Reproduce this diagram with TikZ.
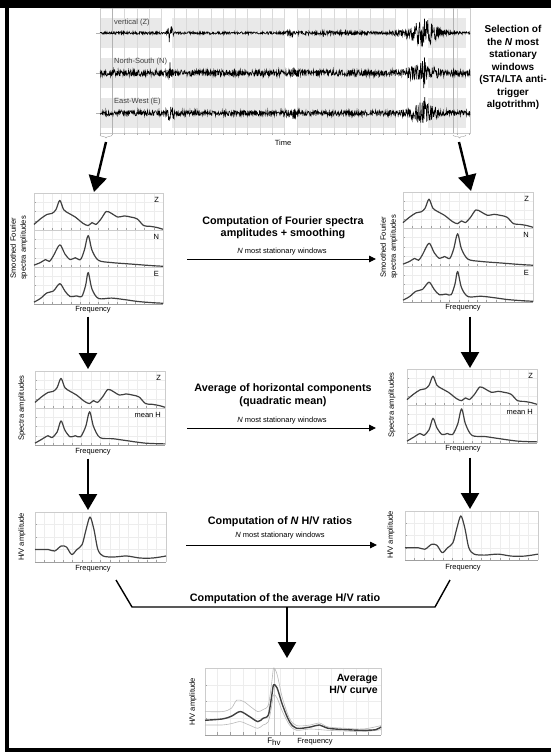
\documentclass[tikz,border=0pt]{standalone}
\usepackage{fontspec}
\setmainfont{Liberation Sans}
\usepackage{tikz}
\usetikzlibrary{arrows.meta,decorations.pathreplacing}

\tikzset{
  bigarrow/.style={line width=2.4pt,-{Triangle[length=16pt,width=18pt]}},
  thinarrow/.style={line width=0.9pt,-{Triangle[length=7pt,width=6.5pt]}},
  heading/.style={font=\bfseries\fontsize{10.8}{12.5}\selectfont,align=center,inner sep=0pt},
  lab/.style={font=\fontsize{7.5}{9}\selectfont,inner sep=0pt},
  ylab/.style={font=\fontsize{7.6}{10}\selectfont,inner sep=0pt,rotate=90,align=center},
  gridline/.style={gray!14,line width=0.3pt},
  frame/.style={gray!40,line width=0.5pt},
  axisline/.style={gray!75,line width=0.6pt},
  spec/.style={black!75,line width=1.2pt,line join=round},
  trace/.style={black,line width=0.6pt}
}
% one sub-panel in unit coordinates
\newcommand{\subgrid}{%
  \foreach \i in {1,...,13} {\draw[gridline] (\i/14,0) -- (\i/14,1);}
  \foreach \j in {1,2,3} {\draw[gridline] (0,\j/4) -- (1,\j/4);}
  \foreach \i in {1,...,13} {\draw[axisline,line width=0.3pt] (\i/14,0) -- (\i/14,0.05);}
  \foreach \j in {1,2,3} {\draw[axisline,line width=0.3pt] (0,\j/4) -- (0.012,\j/4);}
  \draw[frame] (0,0) -- (0,1) -- (1,1) -- (1,0);
  \draw[axisline] (0,0) -- (1,0);}
\newcommand{\curvez}{\draw[spec] plot[smooth] coordinates {(0,0.15) (0.05,0.3) (0.1,0.42) (0.14,0.45) (0.17,0.55) (0.2,0.8) (0.23,0.55) (0.27,0.45) (0.32,0.35) (0.38,0.18) (0.42,0.12) (0.45,0.2) (0.48,0.15) (0.52,0.3) (0.56,0.5) (0.6,0.45) (0.65,0.35) (0.7,0.38) (0.75,0.35) (0.8,0.3) (0.85,0.12) (0.9,0.1) (0.95,0.07) (1,0.02)};}
\newcommand{\curven}{\draw[spec] plot[smooth] coordinates {(0,0.05) (0.05,0.12) (0.09,0.2) (0.12,0.15) (0.15,0.3) (0.2,0.6) (0.24,0.35) (0.28,0.2) (0.32,0.25) (0.36,0.2) (0.39,0.45) (0.42,0.85) (0.45,0.45) (0.5,0.18) (0.6,0.12) (0.75,0.08) (0.9,0.04) (1,0.02)};}
\newcommand{\curvee}{\draw[spec] plot[smooth] coordinates {(0,0.05) (0.05,0.15) (0.1,0.3) (0.15,0.35) (0.2,0.55) (0.24,0.35) (0.28,0.2) (0.33,0.22) (0.37,0.2) (0.4,0.5) (0.42,0.85) (0.45,0.4) (0.5,0.15) (0.6,0.16) (0.7,0.12) (0.8,0.07) (0.9,0.04) (1,0.02)};}
\newcommand{\curveh}{\draw[spec] plot[smooth] coordinates {(0,0.05) (0.05,0.15) (0.1,0.25) (0.13,0.2) (0.17,0.35) (0.2,0.65) (0.23,0.4) (0.27,0.22) (0.31,0.25) (0.35,0.22) (0.39,0.5) (0.42,0.9) (0.45,0.5) (0.5,0.2) (0.6,0.17) (0.7,0.12) (0.85,0.05) (1,0.03)};}
\newcommand{\curvehv}{\draw[spec] plot[smooth] coordinates {(0,0.25) (0.1,0.25) (0.15,0.22) (0.2,0.32) (0.24,0.3) (0.28,0.15) (0.32,0.25) (0.36,0.35) (0.39,0.65) (0.42,0.9) (0.45,0.65) (0.48,0.25) (0.52,0.12) (0.6,0.1) (0.7,0.12) (0.8,0.08) (0.9,0.08) (1,0.12)};}

\begin{document}
\begin{tikzpicture}[x=1pt,y=-1pt,declare function={tri(\x,\m,\w)=max(0,1-abs(\x-\m)/\w);}]
\useasboundingbox (0,0) rectangle (551,752);
\fill (0,0) rectangle (551,8);
\fill (5,0) rectangle (9,752);
\fill (5,748) rectangle (551,752);

% seismograms
\foreach \ya/\yb in {18/48,58/88,98/128}
  \foreach \xa/\xb in {100/162,172/284,297/396,428/466}
    {\fill[gray!17] (\xa,\ya) rectangle (\xb,\yb);}
\foreach \i in {1,...,29} {\draw[gray!30,line width=0.3pt] (100+12.3*\i,8) -- (100+12.3*\i,133);}
\draw[frame] (100,8) rectangle (470,133);
\foreach \i in {0,...,30} {\draw[gray!60,line width=0.3pt] (100+12.3*\i,133) -- (100+12.3*\i,135);}
\foreach \y in {33,73,113} {\draw[gray!60,line width=0.3pt] (96,\y) -- (100,\y);}
\draw[gray!60] (112,8) -- (112,133) (453,8) -- (453,133);
\pgfmathsetseed{11}
\draw[trace] plot[domain=100:470,samples=1000,variable=\t] (\t,{33+(1.3+10*tri(\t,170,4)+3*tri(\t,290,6)+1*tri(\t,330,60)+10*tri(\t,425,20)+4*tri(\t,420,35))*rand});
\draw[trace] plot[domain=100:470,samples=1000,variable=\t] (\t,{73+(3.2+10*tri(\t,170,3)+3*tri(\t,295,6)+7*tri(\t,422,22)+8*tri(\t,424,3))*rand});
\draw[trace] plot[domain=100:470,samples=1000,variable=\t] (\t,{113+(2.8+6*tri(\t,170,6)+3*tri(\t,293,8)+9*tri(\t,422,22)+9*tri(\t,425,3))*rand});
\node[lab,anchor=west,text=black!75] (cZ) at (114,23) {vertical (Z)};
\node[lab,anchor=west,text=black!75] (cN) at (114,62) {North-South (N)};
\node[lab,anchor=west,text=black!75] (cE) at (114,102) {East-West (E)};
\node[lab] (time) at (283,143) {Time};
\draw[gray!70,decorate,decoration={brace,mirror,amplitude=3pt}] (100,135) -- (112,135);
\draw[gray!70,decorate,decoration={brace,mirror,amplitude=3pt}] (453,135) -- (466,135);
\node[heading,font=\bfseries\fontsize{10}{12.5}\selectfont] (sel) at (513,67.5) {Selection of\\the \textit{N} most\\stationary\\windows\\(STA/LTA anti-\\trigger\\algotrithm)};

% spectra panels
\foreach \px/\py/\pw/\ph/\crv/\lbl [count=\k] in {34/230/129/37/z/Z,34/267/129/37/n/N,34/304/129/37/e/E,
    35/408/130/37/z/Z,35/445/130/37/h/mean H,
    403/228/130/36/z/Z,403/266/130/38/n/N,403/302/130/36/e/E,
    407/405/130/36/z/Z,407/443/130/38/h/mean H}
{
  \begin{scope}[shift={(\px,\py)},x=\pw pt,y=\ph pt]
    \subgrid
    \csname curve\crv\endcsname
    \node[lab,anchor=north east] (sub\k) at (0.97,0.88) {\lbl};
  \end{scope}
}
\foreach \px/\py/\pw/\ph in {35/562/131/50,405/560/133/49}
{
  \begin{scope}[shift={(\px,\py)},x=\pw pt,y=\ph pt]
    \subgrid
    \curvehv
  \end{scope}
}

\node[ylab] (ylA) at (19,248) {Smoothed Fourier\\spectra amplitudes};
\node[ylab] (ylD) at (389,247) {Smoothed Fourier\\spectra amplitudes};
\node[ylab] (ylB) at (22,408) {Spectra amplitudes};
\node[ylab] (ylE) at (392,405) {Spectra amplitudes};
\node[ylab] (ylC) at (22,537) {H/V amplitude};
\node[ylab] (ylF) at (391,535) {H/V amplitude};
\node[lab] (fqA) at (93,310) {Frequency};
\node[lab] (fqB) at (93,452) {Frequency};
\node[lab] (fqC) at (93,569) {Frequency};
\node[lab] (fqD) at (463,308) {Frequency};
\node[lab] (fqE) at (463,449) {Frequency};
\node[lab] (fqF) at (463,568) {Frequency};

% arrows
\coordinate (brL) at (106,142);
\coordinate (brR) at (459,142);
\coordinate (tipL) at (94,192);
\coordinate (tipR) at (471,191);
\draw[bigarrow] (brL) -- (tipL);
\draw[bigarrow] (brR) -- (tipR);
\coordinate (topB) at (88,369);
\coordinate (topC) at (88,510);
\coordinate (topE) at (470,368);
\coordinate (topF) at (470,509);
\draw[bigarrow,shorten <=3pt] (fqA.south -| topB) -- (topB);
\draw[bigarrow,shorten <=3pt] (fqB.south -| topC) -- (topC);
\draw[bigarrow,shorten <=5pt] (fqD.south -| topE) -- (topE);
\draw[bigarrow,shorten <=5pt] (fqE.south -| topF) -- (topF);

\node[heading] (hdA) at (283,227.5) {Computation of Fourier spectra\\amplitudes + smoothing};
\node[lab] (nwA) at (282,252) {\textit{N} most stationary windows};
\node[heading] (hdB) at (283,395) {Average of horizontal components\\(quadratic mean)};
\node[lab] (nwB) at (282,421) {\textit{N} most stationary windows};
\node[heading] (hdC) at (280,522) {Computation of \textit{N} H/V ratios};
\node[lab] (nwC) at (280,536) {\textit{N} most stationary windows};
\coordinate (hA1) at (187,259);
\coordinate (hA2) at (376,259);
\coordinate (hB1) at (187,428);
\coordinate (hB2) at (376,428);
\coordinate (hC1) at (186,545);
\coordinate (hC2) at (377,545);
\draw[thinarrow] (hA1) -- (hA2);
\draw[thinarrow] (hB1) -- (hB2);
\draw[thinarrow] (hC1) -- (hC2);

% average
\coordinate (bk1) at (116,580);
\coordinate (bk2) at (132,607);
\coordinate (bk3) at (435,607);
\coordinate (bk4) at (450,580);
\draw[line width=1.4pt,line join=round] (bk1) -- (bk2) -- (bk3) -- (bk4);
\node[heading] (hdD) at (285,599) {Computation of the average H/V ratio};
\coordinate (avgtop) at (287,658);
\draw[bigarrow] (bk2 -| avgtop) -- (avgtop);

\begin{scope}[shift={(205,735)},x=176pt,y=67pt]
  \subgrid
  \draw[gray!45,line width=0.6pt] (0.392,0) -- (0.392,1);
  \draw[gray!55,line width=0.6pt] plot[smooth] coordinates {(0,0.35) (0.1,0.35) (0.15,0.4) (0.18,0.52) (0.22,0.5) (0.26,0.42) (0.3,0.35) (0.33,0.38) (0.36,0.45) (0.38,0.8) (0.39,1.0) (0.41,0.9) (0.44,0.55) (0.48,0.25) (0.52,0.14) (0.6,0.15) (0.65,0.18) (0.7,0.12) (0.8,0.1) (0.9,0.09) (1,0.14)};
  \draw[gray!55,line width=0.6pt] plot[smooth] coordinates {(0,0.15) (0.1,0.15) (0.15,0.17) (0.2,0.2) (0.25,0.15) (0.3,0.1) (0.33,0.15) (0.36,0.2) (0.38,0.45) (0.39,0.6) (0.41,0.55) (0.44,0.35) (0.48,0.15) (0.52,0.07) (0.6,0.09) (0.7,0.07) (0.8,0.06) (0.9,0.05) (1,0.08)};
  \draw[spec,line width=1.4pt] plot[smooth] coordinates {(0,0.22) (0.1,0.24) (0.15,0.28) (0.2,0.35) (0.25,0.28) (0.3,0.2) (0.33,0.25) (0.36,0.3) (0.38,0.6) (0.39,0.75) (0.41,0.7) (0.44,0.45) (0.48,0.2) (0.52,0.1) (0.6,0.12) (0.65,0.15) (0.7,0.1) (0.8,0.08) (0.9,0.07) (0.97,0.08) (1,0.12)};
  \node[heading,align=right,anchor=north east,font=\bfseries\fontsize{10.5}{12}\selectfont] (avgtxt) at (0.983,0.91) {Average\\H/V curve};
\end{scope}
\node[ylab] (ylG) at (193,702) {H/V amplitude};
\node[lab,font=\fontsize{8}{9}\selectfont] (fhv) at (274,742) {F\raisebox{-2pt}{hv}};
\node[lab] (fqG) at (315,742) {Frequency};
\end{tikzpicture}
\end{document}
